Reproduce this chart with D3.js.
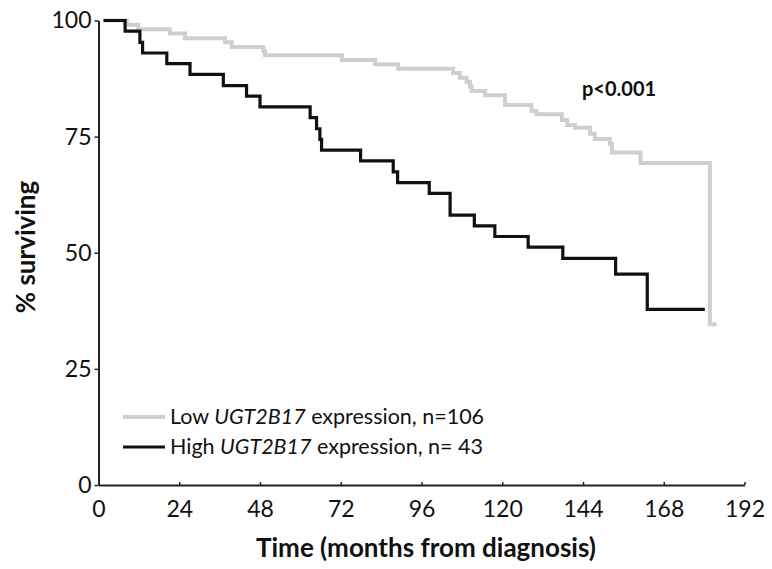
<!DOCTYPE html>
<html>
<head>
<meta charset="utf-8">
<script src="https://cdn.jsdelivr.net/npm/d3@7"></script>
<style>
  html, body { margin: 0; padding: 0; background: #fff; }
  svg { display: block; font-family: Lato, "Open Sans", sans-serif; }
</style>
</head>
<body>
<svg id="chart" width="772" height="569"></svg>
<script>
// ---- data ----
const lowTimes = [1.5, 8.4, 11.8, 21.2, 25.7, 37.6, 39.6, 49.0, 49.5, 72.3, 82.2, 89.1, 105.4, 107.4, 109.4, 110.4, 110.9, 114.9, 120.8, 128.7, 130.2, 137.7, 139.3, 141.6, 146.1, 147.5, 152.0, 152.6, 161.1, 181.7, 183.7];
const lowSurv  = [100, 99.1, 98.1, 97.2, 96.2, 95.3, 94.3, 93.4, 92.5, 91.5, 90.6, 89.6, 88.7, 87.7, 86.8, 85.8, 84.8, 83.9, 81.8, 80.5, 79.8, 78.6, 77.5, 76.9, 75.6, 74.5, 73.4, 71.6, 69.3, 34.6, 34.6];
const highTimes = [1.5, 7.9, 12.3, 13.1, 20.3, 27.2, 37.1, 44.0, 48.0, 62.9, 64.8, 65.8, 66.3, 77.9, 87.6, 88.9, 98.3, 104.5, 111.7, 117.8, 127.7, 138.0, 153.7, 163.1, 180.2];
const highSurv  = [100, 97.7, 95.3, 93.0, 90.7, 88.4, 86.0, 83.7, 81.4, 79.1, 76.7, 74.4, 72.1, 69.8, 67.4, 65.1, 62.8, 58.1, 55.8, 53.5, 51.2, 48.8, 45.4, 37.8, 37.8];
const xTicks = [0, 24, 48, 72, 96, 120, 144, 168, 192];
const yTicks = [0, 25, 50, 75, 100];
const seriesNames = ["Low", "High"];
const geneName = "UGT2B17";
const seriesN = ["n=106", "n= 43"];
const pValueLabel = "p<0.001";
const xTitle = "Time (months from diagnosis)";
const yTitle = "% surviving";

// ---- layout ----
const svg = d3.select("#chart");
const x = d3.scaleLinear().domain([0, 192]).range([98.5, 744.5]);
const y = d3.scaleLinear().domain([0, 100]).range([485, 20.5]);

const axisColor = "#222";

// y axis
const yAxis = svg.append("g")
  .attr("transform", `translate(${x(0)},0)`)
  .call(d3.axisLeft(y).tickValues(yTicks).tickSizeInner(4).tickSizeOuter(0).tickPadding(3));
yAxis.select(".domain").attr("stroke", axisColor).attr("stroke-width", 2);
yAxis.selectAll(".tick line").attr("stroke", axisColor).attr("stroke-width", 1.5);
yAxis.selectAll(".tick text").attr("font-size", 23).attr("fill", "#111")
  .attr("font-family", "Lato, sans-serif");

// x axis
const xAxis = svg.append("g")
  .attr("transform", `translate(0,${y(0)})`)
  .call(d3.axisBottom(x).tickValues(xTicks).tickSizeInner(-3).tickSizeOuter(0).tickPadding(16));
xAxis.select(".domain").attr("stroke", axisColor).attr("stroke-width", 2);
xAxis.selectAll(".tick line").attr("stroke", axisColor).attr("stroke-width", 1.5);
xAxis.selectAll(".tick text").attr("font-size", 23).attr("fill", "#111")
  .attr("font-family", "Lato, sans-serif");
xAxis.selectAll(".tick").filter(d => d === 0).select("line").remove();

// curves
const line = d3.line().x(d => x(d[0])).y(d => y(d[1])).curve(d3.curveStepAfter);
const lowData = lowTimes.map((t, i) => [t, lowSurv[i]]);
const highData = highTimes.map((t, i) => [t, highSurv[i]]);

svg.append("path").datum(lowData)
  .attr("d", line).attr("fill", "none")
  .attr("stroke", "#cfcfcf").attr("stroke-width", 4);
svg.append("path").datum(highData)
  .attr("d", line).attr("fill", "none")
  .attr("stroke", "#111").attr("stroke-width", 3.2);

// p-value
svg.append("text").attr("x", 582).attr("y", 96)
  .attr("font-size", 20).attr("font-weight", "bold").attr("fill", "#111")
  .text(pValueLabel);

// legend
const legendColors = ["#cfcfcf", "#111"];
const legendWidths = [4, 3.2];
const legendY = [417, 447];
seriesNames.forEach((name, i) => {
  svg.append("line").attr("x1", 123).attr("x2", 165)
    .attr("y1", legendY[i]).attr("y2", legendY[i])
    .attr("stroke", legendColors[i]).attr("stroke-width", legendWidths[i]);
  const t = svg.append("text").attr("x", 170).attr("y", legendY[i] + 7)
    .attr("font-size", 21.5).attr("fill", "#111");
  t.append("tspan").text(name + " ");
  t.append("tspan").attr("font-style", "italic").text(geneName);
  t.append("tspan").text(" expression, " + seriesN[i]);
});

// axis titles
svg.append("text")
  .attr("transform", "translate(35,247) rotate(-90)")
  .attr("text-anchor", "middle")
  .attr("font-size", 26).attr("font-weight", "bold").attr("fill", "#111")
  .text(yTitle);
svg.append("text")
  .attr("x", 426).attr("y", 557)
  .attr("text-anchor", "middle")
  .attr("font-size", 26).attr("font-weight", "bold").attr("fill", "#111")
  .text(xTitle);
</script>
</body>
</html>
